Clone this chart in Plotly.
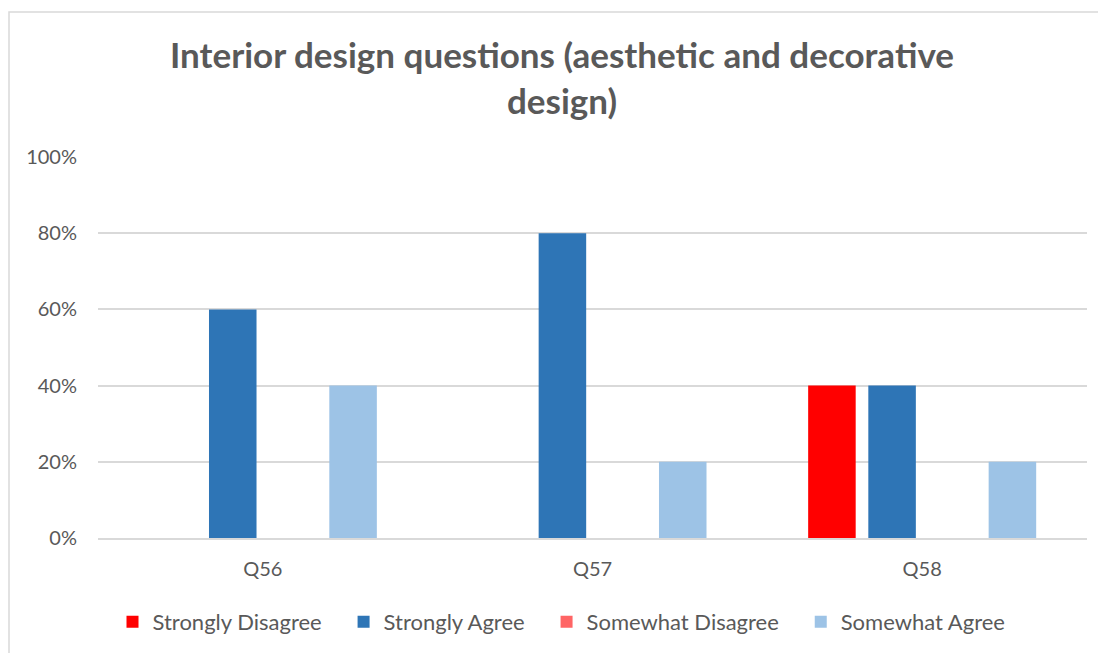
import plotly.graph_objects as go

categories = ["Q56", "Q57", "Q58"]
series_names = ["Strongly Disagree", "Strongly Agree", "Somewhat Disagree", "Somewhat Agree"]
strongly_disagree = [0, 0, 40]
strongly_agree = [60, 80, 40]
somewhat_disagree = [0, 0, 0]
somewhat_agree = [40, 20, 20]
colors = ["#FF0000", "#2E75B6", "#FF6565", "#9DC3E6"]
y_ticks = [0, 20, 40, 60, 80, 100]
y_tick_labels = ["0%", "20%", "40%", "60%", "80%", "100%"]

values = [strongly_disagree, strongly_agree, somewhat_disagree, somewhat_agree]

PAD = "\u00a0" * 3
fig = go.Figure()
for name, vals, col in zip(series_names, values, colors):
    fig.add_trace(go.Bar(x=categories, y=vals, name=name + PAD, marker_color=col,
                         marker_line_width=0))

FONT = "Lato"
OFF = 8  # page body margin
W, H = 1106 - OFF, 653 - OFF
L, T = 98 - OFF, 157 - OFF
R = W - (1087 - OFF)
B = H - (538 - OFF)
pw = W - L - R
ph = H - T - B

def px(x):
    return (x - 98) / pw

def py(y):
    return (538 - y) / ph

fig.update_layout(
    width=W, height=H,
    margin=dict(l=L, r=R, t=T, b=B, autoexpand=False),
    paper_bgcolor="white", plot_bgcolor="white",
    barmode="group", bargap=0.27, bargroupgap=0.21,
    title=dict(text="Interior design questions (aesthetic and decorative<br>design)",
               font=dict(family=FONT, size=35, color="#595959", weight="bold"),
               x=px(562), xref="paper", xanchor="center",
               y=1 - (68 - OFF) / H, yanchor="top"),
    font=dict(family=FONT, size=20, color="#595959"),
    legend=dict(orientation="h", x=px(570), xanchor="center",
                y=py(622), yanchor="middle",
                font=dict(family=FONT, size=22, color="#595959"),
                itemwidth=30, traceorder="normal"),
    yaxis=dict(range=[0, 100], tickvals=y_ticks, ticktext=y_tick_labels,
               showgrid=True, gridcolor="#D9D9D9", gridwidth=1.5,
               zeroline=False, showline=False, ticks="", ticklabelstandoff=20),
    xaxis=dict(showline=True, linecolor="#D9D9D9", linewidth=1.5, ticks="",
               ticklabelstandoff=12),
    shapes=[dict(type="rect", xref="paper", yref="paper",
                 x0=px(9), x1=px(1115),
                 y0=py(665), y1=py(12),
                 line=dict(color="#D9D9D9", width=1.5), fillcolor="rgba(0,0,0,0)",
                 layer="below")],
)

fig.write_html("out.html")
